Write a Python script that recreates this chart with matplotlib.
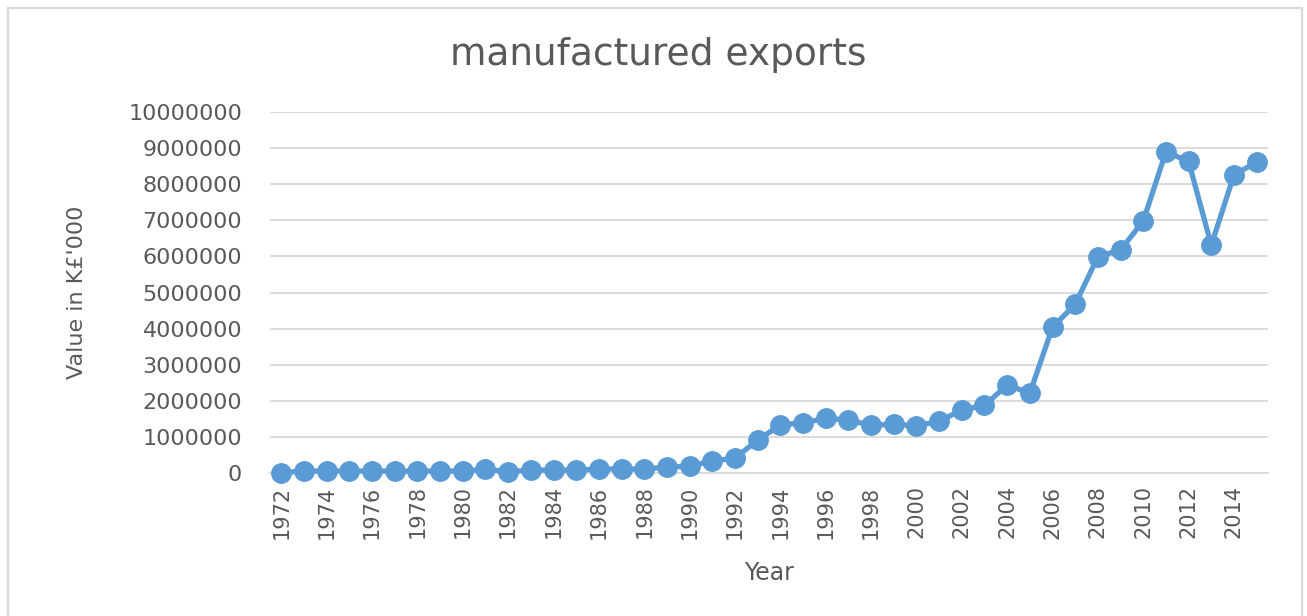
import matplotlib
matplotlib.use("Agg")
import matplotlib.pyplot as plt
from matplotlib.patches import Rectangle

# manufactured exports, value in K£'000
years = list(range(1972, 2016))
values = [
    10000, 55000, 55000, 55000, 55000, 55000, 55000, 55000, 55000, 100000,
    40000, 80000, 80000, 80000, 110000, 110000, 110000, 160000, 190000, 335000,
    410000, 910000, 1330000, 1390000, 1510000, 1470000, 1320000, 1350000, 1310000, 1430000,
    1750000, 1870000, 2440000, 2210000, 4040000, 4670000, 5990000, 6180000, 6980000, 8900000,
    8630000, 6310000, 8260000, 8610000,
]
yticks = list(range(0, 10000001, 1000000))
xticks = list(range(1972, 2015, 2))

blue = "#5B9BD5"
grey_txt = "#595959"
grid_col = "#d9d9d9"

fig = plt.figure(figsize=(13.07, 6.16), dpi=100)
fig.patch.set_facecolor("white")

# chart-area border
fig.patches.append(Rectangle((8 / 1307, -0.05), 1294 / 1307, 1.05 - 8 / 616,
                             transform=fig.transFigure, fill=False,
                             edgecolor=grid_col, linewidth=1.6))

ax = fig.add_axes([270 / 1307, 1 - 473 / 616, 998 / 1307, 361 / 616])
ax.plot(years, values, color=blue, linewidth=3.8, marker="o",
        markersize=14, markerfacecolor=blue, markeredgecolor=blue, zorder=3,
        clip_on=False)

ax.set_xlim(1971.5, 2015.5)
ax.set_ylim(0, 10000000)
ax.set_yticks(yticks)
ax.set_yticklabels([str(v) for v in yticks])
ax.set_xticks(xticks)
ax.set_xticklabels([str(y) for y in xticks], rotation=90)

ax.grid(axis="y", color=grid_col, linewidth=1.3)
ax.set_axisbelow(True)
for s in ["top", "right", "left"]:
    ax.spines[s].set_visible(False)
ax.spines["bottom"].set_color(grid_col)
ax.spines["bottom"].set_linewidth(1.3)

ax.tick_params(axis="y", length=0, pad=20, labelsize=16, labelcolor=grey_txt)
ax.tick_params(axis="x", length=0, pad=9, labelsize=15, labelcolor=grey_txt)

ax.set_ylabel("Value in K£'000", fontsize=16, color=grey_txt, labelpad=30)
ax.set_xlabel("Year", fontsize=17, color=grey_txt, labelpad=16)
fig.text(658 / 1307, 1 - 55 / 616, "manufactured exports", fontsize=27,
         color=grey_txt, ha="center", va="center")

fig.savefig("out.png", dpi=100, facecolor="white")
